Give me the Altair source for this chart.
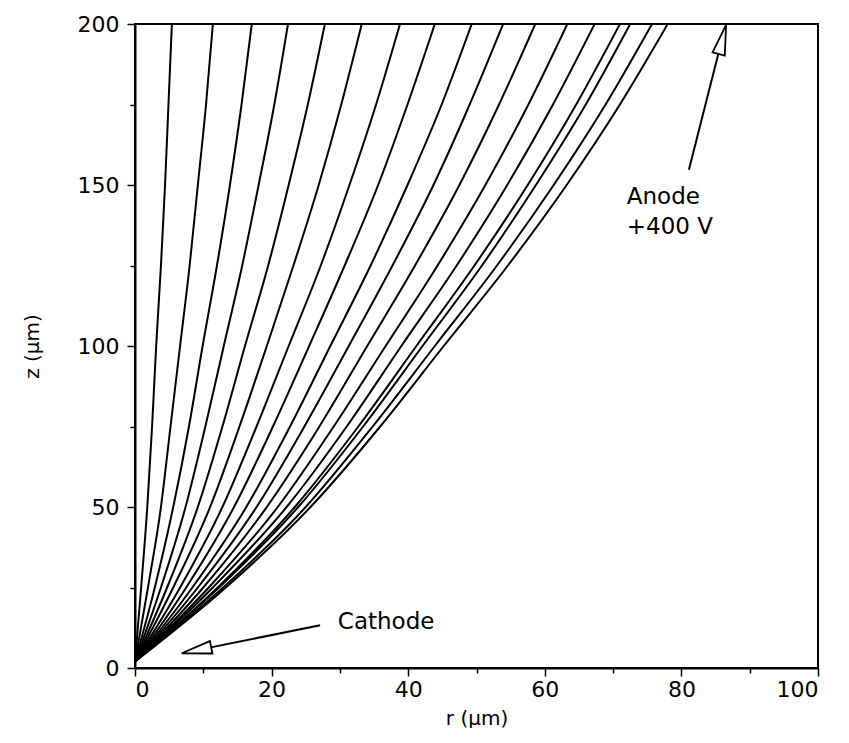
import altair as alt
import pandas as pd

# z positions (µm) at which each trajectory's radial position was read
z_levels = [2, 25, 50, 75, 100, 125, 150, 175, 200]

# radial position r (µm) of each trajectory at the z_levels above
traj_r = [
    [0, 0.9, 1.8, 2.5, 3.1, 3.8, 4.4, 4.9, 5.4],
    [0, 1.9, 3.8, 5.2, 6.6, 8.0, 9.2, 10.4, 11.4],
    [0, 2.9, 5.6, 7.9, 9.9, 12.0, 13.9, 15.6, 17.1],
    [0, 3.8, 7.4, 10.3, 13.0, 15.7, 18.1, 20.4, 22.4],
    [0, 4.7, 9.2, 12.8, 16.1, 19.5, 22.5, 25.3, 27.8],
    [0, 5.6, 11.0, 15.3, 19.3, 23.2, 26.9, 30.2, 33.2],
    [0, 6.6, 12.8, 17.8, 22.5, 27.2, 31.4, 35.3, 38.8],
    [0, 7.5, 14.5, 20.2, 25.5, 30.7, 35.6, 39.9, 43.9],
    [0, 8.4, 16.3, 22.7, 28.6, 34.5, 39.9, 44.9, 49.3],
    [0, 9.2, 17.8, 24.8, 31.3, 37.7, 43.7, 49.0, 53.9],
    [0, 10.0, 19.3, 27.0, 34.0, 41.0, 47.5, 53.3, 58.6],
    [0, 10.8, 20.9, 29.1, 36.7, 44.3, 51.3, 57.6, 63.3],
    [0, 11.4, 22.2, 31.0, 39.0, 47.1, 54.5, 61.2, 67.3],
    [0, 12.1, 23.4, 32.7, 41.2, 49.7, 57.5, 64.6, 71.0],
    [0, 12.3, 23.9, 33.4, 42.1, 50.8, 58.7, 66.0, 72.5],
    [0, 12.9, 25.0, 34.8, 43.9, 53.0, 61.3, 68.9, 75.7],
    [0, 13.3, 25.7, 35.9, 45.2, 54.6, 63.2, 71.0, 78.0],
]

# annotations
label_text = ["Cathode", "Anode", "+400 V"]
label_r = [29.7, 72.0, 72.0]
label_z = [14.3, 146.3, 137.0]

arrow_r1 = [27.1, 81.1]
arrow_z1 = [13.3, 154.7]
arrow_r2 = [11.1, 85.4]
arrow_z2 = [6.4, 190.7]
head_r = [9.0, 86.0]
head_z = [5.5, 195.2]
head_angle = [258.5, 14.3]

rows = []
for i, xs in enumerate(traj_r):
    for j, (z, r) in enumerate(zip(z_levels, xs)):
        rows.append({"line": i, "r": r, "z": z, "ord": j})
df = pd.DataFrame(rows)

lab_df = pd.DataFrame({"t": label_text, "r": label_r, "z": label_z})
arr_df = pd.DataFrame({"r": arrow_r1, "z": arrow_z1, "r2": arrow_r2, "z2": arrow_z2})
head_df = pd.DataFrame({"r": head_r, "z": head_z, "a": head_angle})

FONT = "DejaVu Sans"
xscale = alt.Scale(domain=[0, 100], nice=False, zero=False)
yscale = alt.Scale(domain=[0, 200], nice=False, zero=False)

xaxis = alt.Axis(
    values=list(range(0, 101, 10)),
    labelExpr="datum.value % 20 === 0 ? datum.label : ''",
    tickSize={"condition": {"test": "datum.value % 20 === 0", "value": 8}, "value": 5},
    labelPadding=3,
    titleY=50, titleBaseline="middle",
    grid=False,
)
yaxis = alt.Axis(
    values=list(range(0, 201, 25)),
    labelExpr="datum.value % 50 === 0 ? datum.label : ''",
    tickSize={"condition": {"test": "datum.value % 50 === 0", "value": 8}, "value": 5},
    labelPadding=8,
    titleX=-103, titleY=322, titleBaseline="middle",
    grid=False,
)

lines = alt.Chart(df).mark_line(
    color="black", strokeWidth=2, interpolate="monotone", clip=True
).encode(
    x=alt.X("r:Q", scale=xscale, axis=xaxis, title="r (μm)"),
    y=alt.Y("z:Q", scale=yscale, axis=yaxis, title="z (μm)"),
    detail="line:N",
    order="ord:Q",
)

texts = alt.Chart(lab_df).mark_text(
    align="left", baseline="middle", font=FONT, fontSize=23, color="black"
).encode(x=alt.X("r:Q", scale=xscale), y=alt.Y("z:Q", scale=yscale), text="t:N")

arrows = alt.Chart(arr_df).mark_rule(color="black", strokeWidth=2).encode(
    x=alt.X("r:Q", scale=xscale), y=alt.Y("z:Q", scale=yscale), x2="r2:Q", y2="z2:Q"
)

heads = alt.Chart(head_df).mark_point(
    shape="M 0 -1 L 0.42 1 L -0.42 1 Z", filled=True, fill="white",
    stroke="black", strokeWidth=1.8, size=900, opacity=1
).encode(
    x=alt.X("r:Q", scale=xscale), y=alt.Y("z:Q", scale=yscale),
    angle=alt.Angle("a:Q", scale=None),
)

chart = alt.layer(lines, arrows, heads, texts).properties(
    width=683, height=644,
    autosize=alt.AutoSizeParams(type="none"),
    padding={"left": 127, "top": 16, "right": 20, "bottom": 60},
    background="white",
).configure_view(
    stroke="black", strokeWidth=2
).configure_axis(
    domainColor="black", domainWidth=2, tickColor="black", tickWidth=1.5,
    labelFont=FONT, labelFontSize=22, labelColor="black",
    titleFont=FONT, titleFontSize=20, titleFontWeight="normal", titleColor="black",
)

chart.save("out.html", embed_options={"renderer": "svg", "actions": False})
